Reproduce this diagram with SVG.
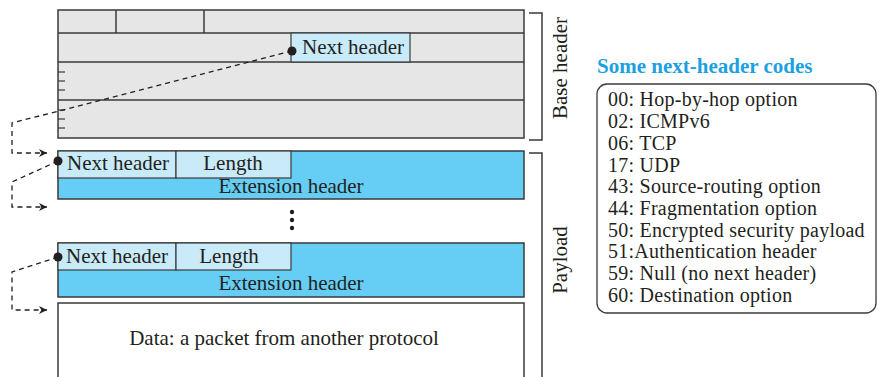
<svg xmlns="http://www.w3.org/2000/svg" width="879" height="377" viewBox="0 0 879 377" font-family="Liberation Serif, Times New Roman, serif">
<defs>
<style>
text{font-family:Liberation Serif, Times New Roman, serif}
.t{font-size:21px;fill:#231f20}
.c{font-size:20px;fill:#231f20;letter-spacing:0.25px}
.g{fill:#e6e6e7;stroke:#3a3a3a;stroke-width:1.5}
.lb{fill:#c9eaf9;stroke:#3a3a3a;stroke-width:1.2}
.eb{fill:#66cdf4;stroke:#3a3a3a;stroke-width:1.5}
.ln{stroke:#3a3a3a;stroke-width:1.5;fill:none}
.tk{stroke:#3a3a3a;stroke-width:1.2}
.d{stroke:#231f20;stroke-width:1.3;fill:none;stroke-dasharray:5,4}
</style>
<marker id="ar" viewBox="0 0 10 10" refX="10" refY="5" markerWidth="11" markerHeight="8" markerUnits="userSpaceOnUse" orient="auto">
<path d="M0,0 L10,5 L0,10 L3,5 Z" fill="#231f20"/>
</marker>
</defs>
<rect width="879" height="377" fill="#fff"/>
<g id="base-header">
<rect class="g" x="58" y="10" width="466" height="128"/>
<line class="ln" x1="58" y1="33" x2="524" y2="33"/>
<line class="ln" x1="58" y1="62" x2="524" y2="62"/>
<line class="ln" x1="58" y1="100" x2="524" y2="100"/>
<line class="ln" x1="116" y1="10" x2="116" y2="33"/>
<line class="ln" x1="204" y1="10" x2="204" y2="33"/>
<rect class="lb" x="291" y="33" width="119" height="29"/>
<text class="t" x="302" y="54" font-size="21">Next header</text>
<line class="tk" x1="58" y1="72" x2="65" y2="72"/>
<line class="tk" x1="58" y1="81" x2="65" y2="81"/>
<line class="tk" x1="58" y1="90" x2="65" y2="90"/>
<line class="tk" x1="58" y1="110" x2="65" y2="110"/>
<line class="tk" x1="58" y1="119" x2="65" y2="119"/>
<line class="tk" x1="58" y1="128" x2="65" y2="128"/>
<circle cx="292" cy="51" r="4.5" fill="#231f20"/>
</g>
<g id="ext-header-1" font-size="21">
<rect class="eb" x="58" y="151" width="466" height="48"/>
<rect class="lb" x="58" y="151" width="118" height="27"/>
<rect class="lb" x="176" y="151" width="115" height="27"/>
<text class="t" x="118" y="170" text-anchor="middle">Next header</text>
<text class="t" x="233" y="170" text-anchor="middle">Length</text>
<text class="t" x="291" y="193" text-anchor="middle">Extension header</text>
<circle cx="58" cy="161" r="4.5" fill="#231f20"/>
</g>
<g id="ellipsis">
<circle cx="292" cy="212" r="2.2" fill="#231f20"/>
<circle cx="292" cy="220" r="2.2" fill="#231f20"/>
<circle cx="292" cy="228" r="2.2" fill="#231f20"/>
</g>
<g id="ext-header-2" font-size="21">
<rect class="eb" x="58" y="243" width="466" height="54"/>
<rect class="lb" x="58" y="243" width="118" height="27"/>
<rect class="lb" x="176" y="243" width="115" height="27"/>
<text class="t" x="117" y="263" text-anchor="middle">Next header</text>
<text class="t" x="229" y="263" text-anchor="middle">Length</text>
<text class="t" x="291" y="290" text-anchor="middle">Extension header</text>
<circle cx="58" cy="257" r="4.5" fill="#231f20"/>
</g>
<g id="data" font-size="21">
<rect x="58" y="303" width="466" height="80" fill="#fff" stroke="#3a3a3a" stroke-width="1.5"/>
<text class="t" x="284" y="345" text-anchor="middle">Data: a packet from another protocol</text>
</g>
<g id="brackets" font-size="21">
<path class="ln" d="M529,13 H542 V140 H529"/>
<text class="t" transform="translate(567,68) rotate(-90)" text-anchor="middle">Base header</text>
<path class="ln" d="M529,153 H542 V380"/>
<text class="t" transform="translate(567,260) rotate(-90)" text-anchor="middle">Payload</text>
</g>
<g id="codes" font-size="20">
<text x="597" y="73" font-size="21" font-weight="bold" fill="#1ba1e2">Some next-header codes</text>
<rect x="597" y="84" width="279" height="229" rx="10" ry="10" fill="none" stroke="#3a3a3a" stroke-width="1.3"/>
<text class="c" x="608" y="106">00: Hop-by-hop option</text>
<text class="c" x="608" y="128">02: ICMPv6</text>
<text class="c" x="608" y="150">06: TCP</text>
<text class="c" x="608" y="172">17: UDP</text>
<text class="c" x="608" y="193">43: Source-routing option</text>
<text class="c" x="608" y="215">44: Fragmentation option</text>
<text class="c" x="608" y="237">50: Encrypted security payload</text>
<text class="c" x="608" y="258">51:Authentication header</text>
<text class="c" x="608" y="280">59: Null (no next header)</text>
<text class="c" x="608" y="302">60: Destination option</text>
</g>
<g id="connectors">
<path class="d" d="M292,51 L12,123 V153 H47" marker-end="url(#ar)"/>
<path class="d" d="M58,161 L12,182 V207 H47" marker-end="url(#ar)"/>
<path class="d" d="M58,257 L12,272 V310 H47" marker-end="url(#ar)"/>
</g>
</svg>
